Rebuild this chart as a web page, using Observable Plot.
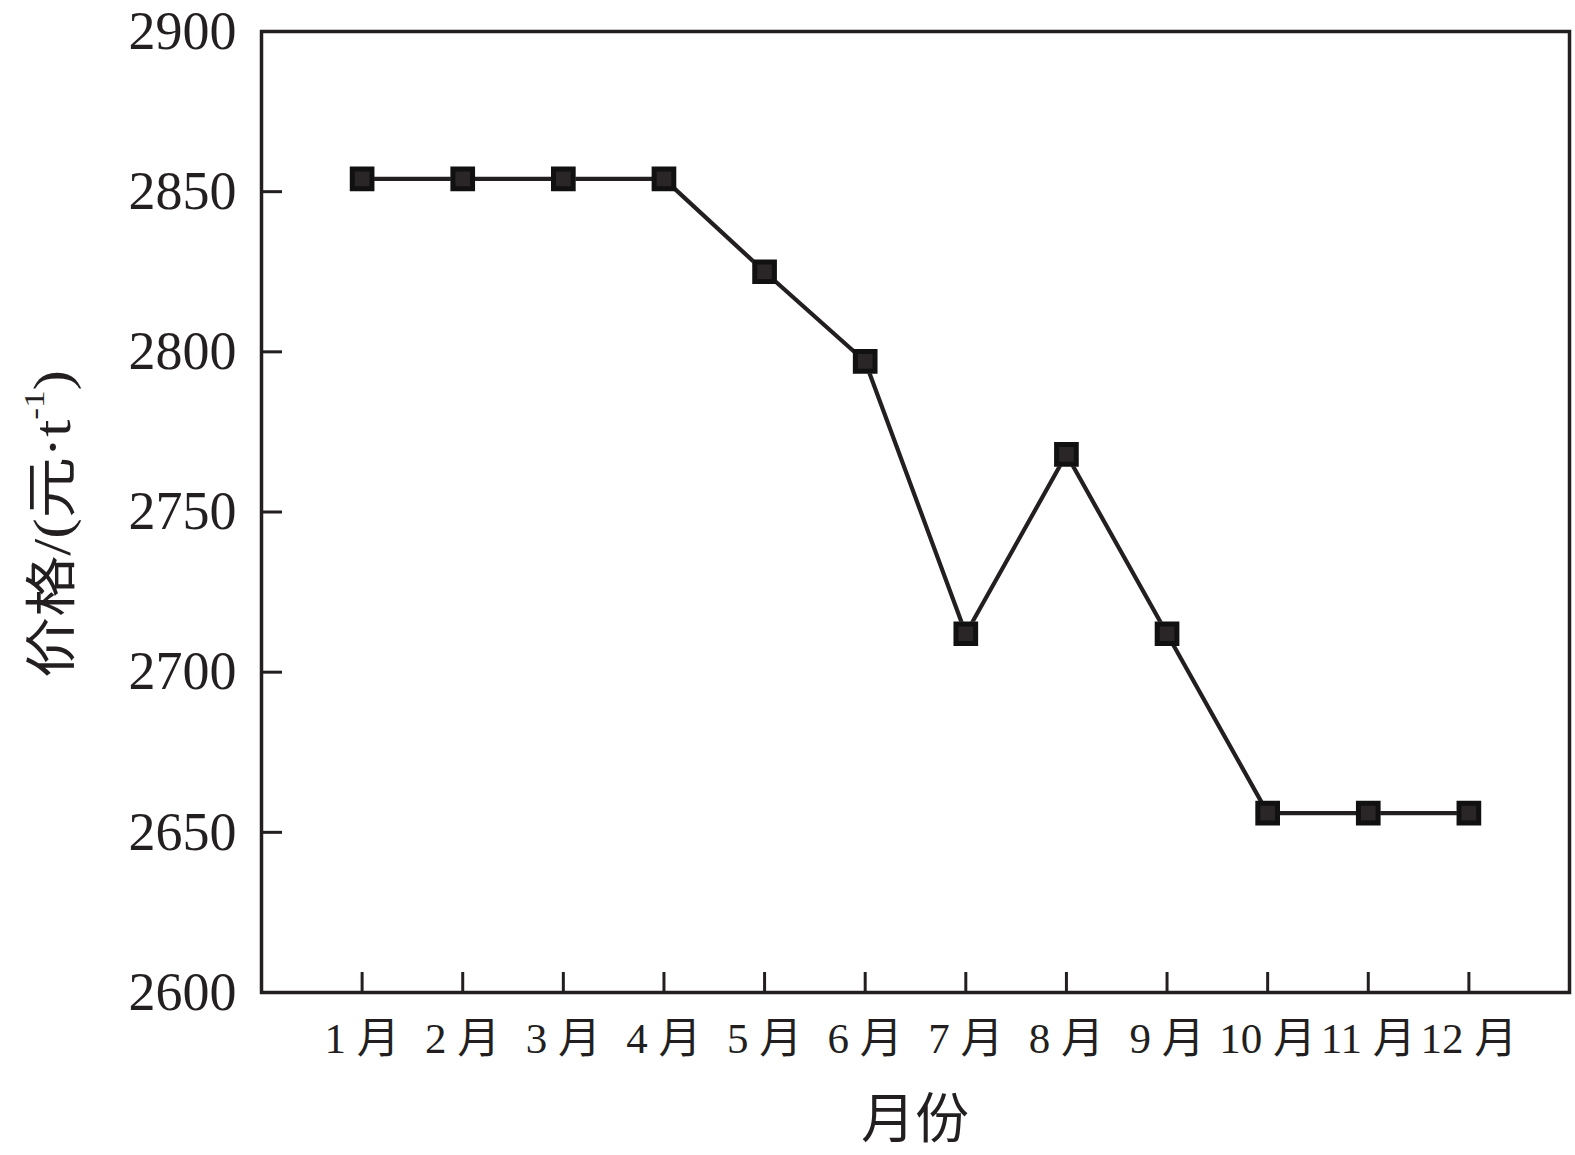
<!DOCTYPE html>
<html><head><meta charset="utf-8">
<script src="https://cdn.jsdelivr.net/npm/d3@7"></script>
<script src="https://cdn.jsdelivr.net/npm/@observablehq/plot@0.6"></script>
<style>body{margin:0;background:#fff}</style>
</head><body><div id="chart"></div>
<script>
const months = [1, 2, 3, 4, 5, 6, 7, 8, 9, 10, 11, 12];
const monthLabels = ["1 月", "2 月", "3 月", "4 月", "5 月", "6 月", "7 月", "8 月", "9 月", "10 月", "11 月", "12 月"];
const prices = [2854, 2854, 2854, 2854, 2825, 2797, 2712, 2768, 2712, 2656, 2656, 2656];
const yTicks = [2600, 2650, 2700, 2750, 2800, 2850, 2900];
const yTitleMain = "价格/(元·t";
const yTitleSup = "-1";
const yTitleEnd = ")";
const xTitle = "月份";

const data = months.map((m, i) => ({month: m, price: prices[i]}));
const ink = "#231f20";
const font = "'Liberation Serif', 'Noto Sans CJK SC', serif";

const chart = Plot.plot({
  width: 1575, height: 1155,
  marginLeft: 261, marginRight: 6, marginTop: 31, marginBottom: 163,
  style: {fontFamily: font, background: "#fff", color: ink},
  x: {domain: [0, 13], label: null},
  y: {domain: [2600, 2900], label: null},
  marks: [
    Plot.frame({stroke: ink, strokeWidth: 3.5}),
    Plot.axisY(yTicks, {tickSize: -21, fill: "none", stroke: ink, strokeWidth: 3, label: null}),
    Plot.axisY(yTicks, {tickSize: 0, tickPadding: 25, fontSize: 54, fill: ink, tickFormat: d => String(d), label: null}),
    Plot.axisX(months, {tickSize: -20, fill: "none", stroke: ink, strokeWidth: 3, label: null}),
    Plot.axisX(months, {tickSize: 0, tickPadding: 30, fontSize: 43, fill: ink, tickFormat: d => monthLabels[months.indexOf(d)], label: null}),
    Plot.line(data, {x: "month", y: "price", stroke: ink, strokeWidth: 4.2}),
    Plot.dot(data, {x: "month", y: "price", symbol: "square", r: 13.5, fill: "white", stroke: null}),
    Plot.dot(data, {x: "month", y: "price", symbol: "square", r: 11.1, fill: "#2a2526", stroke: "#111", strokeWidth: 5})
  ]
});
document.getElementById("chart").appendChild(chart);

const svg = d3.select(chart);
const yt = svg.append("text")
  .attr("transform", "translate(52,524) rotate(-90)")
  .attr("text-anchor", "middle")
  .attr("dominant-baseline", "central")
  .attr("font-family", font)
  .attr("font-size", 52)
  .attr("textLength", 308)
  .attr("lengthAdjust", "spacingAndGlyphs")
  .attr("fill", ink);
yt.append("tspan").text(yTitleMain);
yt.append("tspan").attr("font-size", 30).attr("dy", -19).attr("fill", ink).text(yTitleSup);
yt.append("tspan").attr("dy", 19).text(yTitleEnd);

svg.append("text")
  .attr("x", 915).attr("y", 1120)
  .attr("text-anchor", "middle")
  .attr("dominant-baseline", "central")
  .attr("font-family", font)
  .attr("font-size", 54)
  .attr("fill", ink)
  .text(xTitle);
</script>
</body></html>
